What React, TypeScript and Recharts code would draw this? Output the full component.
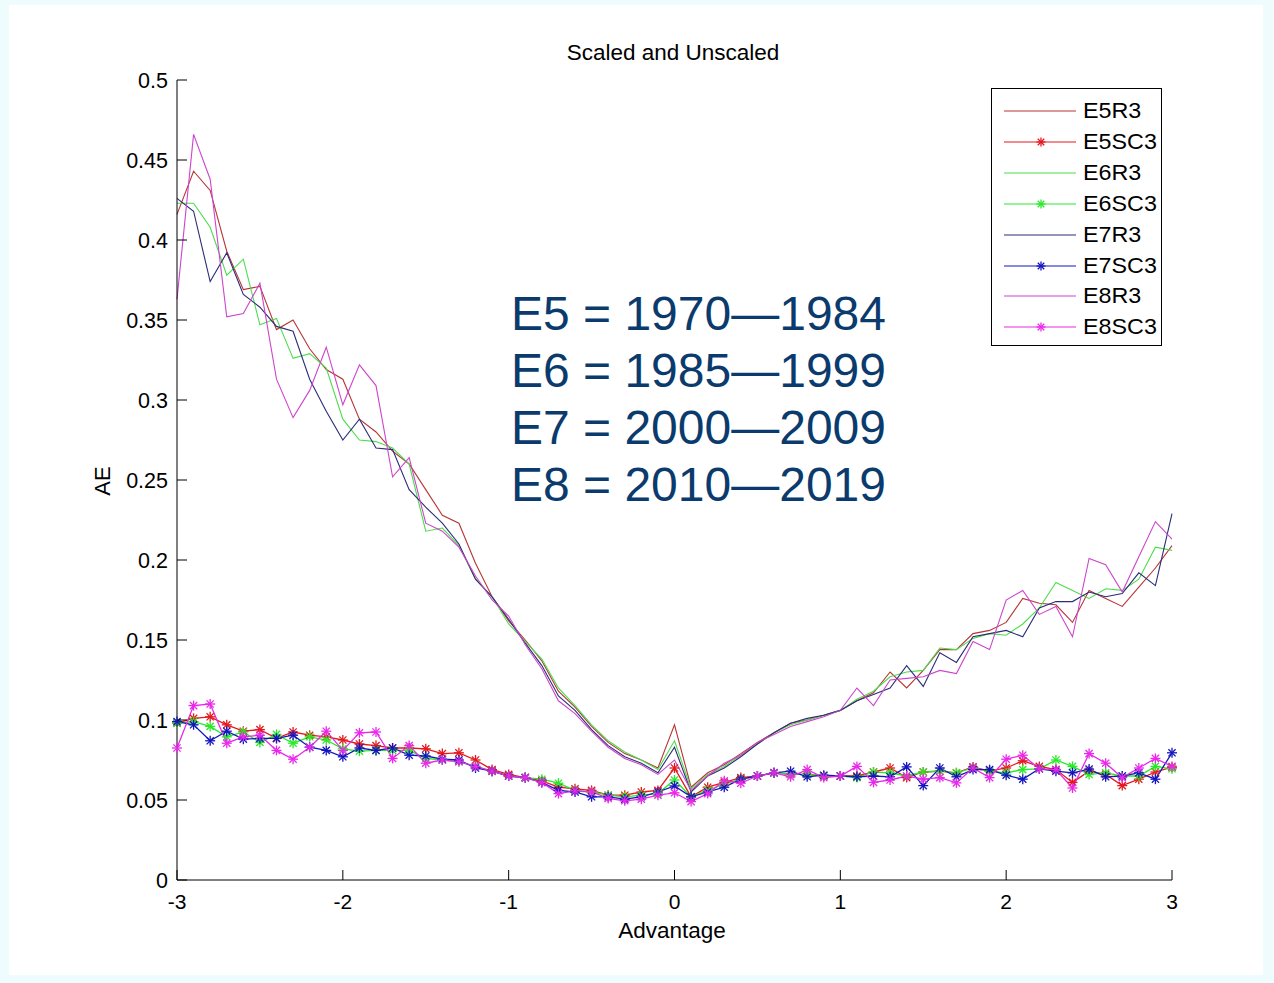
import React from 'react';
import { LineChart, Line, XAxis, YAxis } from 'recharts';

// Advantage values (x axis)
const advantage = [
  -3.0, -2.9, -2.8, -2.7, -2.6, -2.5, -2.4, -2.3, -2.2, -2.1,
  -2.0, -1.9, -1.8, -1.7, -1.6, -1.5, -1.4, -1.3, -1.2, -1.1,
  -1.0, -0.9, -0.8, -0.7, -0.6, -0.5, -0.4, -0.3, -0.2, -0.1,
  0.0,
  0.1, 0.2, 0.3, 0.4, 0.5, 0.6, 0.7, 0.8, 0.9, 1.0,
  1.1, 1.2, 1.3, 1.4, 1.5, 1.6, 1.7, 1.8, 1.9, 2.0,
  2.1, 2.2, 2.3, 2.4, 2.5, 2.6, 2.7, 2.8, 2.9, 3.0,
];

const e5r3 = [
  0.416, 0.443, 0.431, 0.393, 0.369, 0.371, 0.344, 0.350, 0.332, 0.319,
  0.313, 0.288, 0.280, 0.268, 0.260, 0.244, 0.228, 0.223, 0.198, 0.177,
  0.162, 0.150, 0.137, 0.118, 0.108, 0.096, 0.086, 0.079, 0.075, 0.070,
  0.097,
  0.058, 0.067, 0.072, 0.079, 0.086, 0.092, 0.098, 0.100, 0.103, 0.106,
  0.112, 0.117, 0.130, 0.120, 0.131, 0.144, 0.144, 0.154, 0.156, 0.161,
  0.176, 0.173, 0.172, 0.161, 0.181, 0.176, 0.171, 0.183, 0.195, 0.209,
];

const e5sc3 = [
  0.098, 0.101, 0.102, 0.097, 0.093, 0.094, 0.0885, 0.0925, 0.0905, 0.0895,
  0.0875, 0.085, 0.084, 0.0825, 0.0825, 0.082, 0.079, 0.0795, 0.075, 0.069,
  0.066, 0.064, 0.062, 0.058, 0.057, 0.056, 0.053, 0.053, 0.055, 0.056,
  0.070,
  0.052, 0.058, 0.061, 0.064, 0.065, 0.067, 0.066, 0.066, 0.065, 0.065,
  0.065, 0.0675, 0.070, 0.064, 0.0675, 0.068, 0.067, 0.0707, 0.068, 0.070,
  0.0745, 0.071, 0.069, 0.061, 0.068, 0.066, 0.059, 0.063, 0.0675, 0.0705,
];

const e6r3 = [
  0.423, 0.423, 0.408, 0.378, 0.388, 0.347, 0.351, 0.326, 0.329, 0.320,
  0.288, 0.275, 0.274, 0.270, 0.260, 0.218, 0.220, 0.209, 0.188, 0.177,
  0.160, 0.149, 0.138, 0.120, 0.109, 0.097, 0.087, 0.080, 0.075, 0.069,
  0.087,
  0.057, 0.066, 0.071, 0.078, 0.085, 0.092, 0.097, 0.100, 0.103, 0.106,
  0.113, 0.118, 0.127, 0.130, 0.131, 0.145, 0.144, 0.151, 0.154, 0.153,
  0.160, 0.170, 0.186, 0.181, 0.176, 0.182, 0.181, 0.188, 0.208, 0.206,
];

const e6sc3 = [
  0.098, 0.099, 0.096, 0.0895, 0.0925, 0.086, 0.091, 0.0855, 0.0895, 0.0875,
  0.082, 0.0805, 0.081, 0.081, 0.081, 0.076, 0.075, 0.074, 0.071, 0.068,
  0.065, 0.064, 0.063, 0.0605, 0.056, 0.055, 0.053, 0.052, 0.053, 0.054,
  0.0625,
  0.052, 0.056, 0.060, 0.063, 0.065, 0.067, 0.066, 0.066, 0.065, 0.065,
  0.064, 0.0675, 0.067, 0.065, 0.0675, 0.068, 0.067, 0.070, 0.068, 0.067,
  0.069, 0.0695, 0.075, 0.071, 0.066, 0.067, 0.065, 0.065, 0.071, 0.0695,
];

const e7r3 = [
  0.426, 0.418, 0.374, 0.392, 0.366, 0.358, 0.346, 0.343, 0.313, 0.293,
  0.275, 0.288, 0.270, 0.269, 0.244, 0.233, 0.223, 0.210, 0.188, 0.177,
  0.163, 0.148, 0.134, 0.115, 0.106, 0.094, 0.084, 0.077, 0.073, 0.067,
  0.083,
  0.055, 0.065, 0.070, 0.077, 0.085, 0.092, 0.098, 0.101, 0.103, 0.106,
  0.112, 0.116, 0.120, 0.134, 0.121, 0.142, 0.136, 0.152, 0.154, 0.156,
  0.152, 0.170, 0.174, 0.174, 0.180, 0.177, 0.179, 0.192, 0.184, 0.229,
];

const e7sc3 = [
  0.099, 0.097, 0.087, 0.093, 0.088, 0.0885, 0.0885, 0.0905, 0.083, 0.081,
  0.077, 0.0825, 0.081, 0.0825, 0.078, 0.0775, 0.0755, 0.075, 0.070, 0.068,
  0.065, 0.064, 0.061, 0.056, 0.055, 0.052, 0.052, 0.0505, 0.052, 0.055,
  0.0588,
  0.052, 0.055, 0.058, 0.063, 0.065, 0.067, 0.068, 0.0645, 0.0655, 0.065,
  0.0645, 0.065, 0.0645, 0.0707, 0.059, 0.070, 0.0645, 0.069, 0.069, 0.0655,
  0.063, 0.0695, 0.068, 0.067, 0.0693, 0.0645, 0.065, 0.067, 0.063, 0.0795,
];

const e8r3 = [
  0.363, 0.466, 0.438, 0.352, 0.354, 0.373, 0.313, 0.289, 0.306, 0.333,
  0.297, 0.322, 0.309, 0.252, 0.264, 0.223, 0.218, 0.208, 0.190, 0.175,
  0.165, 0.147, 0.132, 0.112, 0.104, 0.093, 0.083, 0.076, 0.072, 0.066,
  0.075,
  0.056, 0.065, 0.073, 0.078, 0.086, 0.091, 0.096, 0.099, 0.102, 0.106,
  0.120, 0.109, 0.125, 0.126, 0.127, 0.131, 0.129, 0.149, 0.144, 0.175,
  0.181, 0.166, 0.171, 0.152, 0.201, 0.197, 0.180, 0.202, 0.224, 0.213,
];

const e8sc3 = [
  0.0825, 0.109, 0.110, 0.0855, 0.0895, 0.0905, 0.081, 0.0755, 0.083, 0.093,
  0.081, 0.092, 0.0925, 0.076, 0.084, 0.073, 0.075, 0.074, 0.071, 0.068,
  0.065, 0.064, 0.061, 0.054, 0.0557, 0.055, 0.051, 0.0495, 0.0505, 0.053,
  0.0545,
  0.049, 0.054, 0.062, 0.0605, 0.065, 0.067, 0.0645, 0.069, 0.064, 0.065,
  0.071, 0.061, 0.0625, 0.065, 0.063, 0.064, 0.0607, 0.070, 0.064, 0.0755,
  0.078, 0.0695, 0.069, 0.0575, 0.079, 0.073, 0.064, 0.070, 0.076, 0.071,
];

const xTicks = [-3, -2, -1, 0, 1, 2, 3];
const yTicks = [0, 0.05, 0.1, 0.15, 0.2, 0.25, 0.3, 0.35, 0.4, 0.45, 0.5];

const eraLabels = ['E5 = 1970\u20141984', 'E6 = 1985\u20141999', 'E7 = 2000\u20142009', 'E8 = 2010\u20142019'];

const series = [
  { key: 'E5R3', values: e5r3, color: '#b73535', star: false },
  { key: 'E5SC3', values: e5sc3, color: '#e4181c', star: true },
  { key: 'E6R3', values: e6r3, color: '#4ddc4d', star: false },
  { key: 'E6SC3', values: e6sc3, color: '#2ae82a', star: true },
  { key: 'E7R3', values: e7r3, color: '#2c2c78', star: false },
  { key: 'E7SC3', values: e7sc3, color: '#1414c0', star: true },
  { key: 'E8R3', values: e8r3, color: '#cc45cc', star: false },
  { key: 'E8SC3', values: e8sc3, color: '#ea28ea', star: true },
];

const data = advantage.map((x, i) => {
  const row: any = { x };
  series.forEach((s) => { row[s.key] = s.values[i]; });
  return row;
});

const FONT = '"Liberation Sans", Arial, Helvetica, sans-serif';

const Star = ({ cx, cy, color, r = 5 }: any) => {
  if (cx == null || cy == null) return null;
  const d = r * 0.72;
  return (
    <g stroke={color} strokeWidth={1.3}>
      <line x1={cx - r} y1={cy} x2={cx + r} y2={cy} />
      <line x1={cx} y1={cy - r} x2={cx} y2={cy + r} />
      <line x1={cx - d} y1={cy - d} x2={cx + d} y2={cy + d} />
      <line x1={cx - d} y1={cy + d} x2={cx + d} y2={cy - d} />
    </g>
  );
};

const XTick = ({ x, y, payload }: any) => (
  <g>
    <line x1={x} y1={y} x2={x} y2={y - 10} stroke="#000" strokeWidth={1} />
    <text x={x} y={y + 29} textAnchor="middle" fontSize={21} fontFamily={FONT} fill="#000">
      {payload.value}
    </text>
  </g>
);

const YTick = ({ x, y, payload }: any) => (
  <g>
    <line x1={x} y1={y} x2={x + 10} y2={y} stroke="#000" strokeWidth={1} />
    <text x={x - 9} y={y + 7.5} textAnchor="end" fontSize={21.5} fontFamily={FONT} fill="#000">
      {String(payload.value)}
    </text>
  </g>
);

const LegendBox = () => (
  <div
    style={{
      position: 'absolute',
      left: 991,
      top: 88,
      width: 169,
      height: 256,
      border: '1px solid #000',
      background: '#fff',
      fontFamily: FONT,
      fontSize: 22,
    }}
  >
    {series.map((s, i) => (
      <div key={s.key} style={{ position: 'absolute', left: 0, top: 7 + i * 30.9, height: 30, width: 169 }}>
        <svg width={90} height={30} style={{ position: 'absolute', left: 0, top: 0 }}>
          <line x1={12} y1={15} x2={84} y2={15} stroke={s.color} strokeWidth={1.2} />
          {s.star && <Star cx={49} cy={15} color={s.color} r={4.5} />}
        </svg>
        <span
          style={{
            position: 'absolute',
            left: 91,
            top: 2,
            lineHeight: '26px',
            color: '#000',
            display: 'inline-block',
            transform: 'scaleX(1.06)',
            transformOrigin: 'left center',
          }}
        >
          {s.key}
        </span>
      </div>
    ))}
  </div>
);

export default function App() {
  return (
    <div style={{ position: 'fixed', left: 0, top: 0, width: 1274, height: 983, background: '#effcfd' }}>
      <div style={{ position: 'absolute', left: 9, top: 5, width: 1254, height: 970, background: '#fff' }} />
      <div style={{ position: 'absolute', left: 0, top: 0 }}>
        <LineChart
          width={1274}
          height={983}
          data={data}
          margin={{ top: 80, right: 102, bottom: 43, left: 77 }}
        >
          <XAxis
            dataKey="x"
            type="number"
            domain={[-3, 3]}
            ticks={xTicks}
            tickLine={false}
            tickSize={0}
            tickMargin={0}
            height={60}
            axisLine={{ stroke: '#000', strokeWidth: 1 }}
            tick={<XTick />}
            interval={0}
            label={{
              content: () => (
                <text x={672} y={938} textAnchor="middle" fontSize={22.5} fontFamily={FONT} fill="#000">
                  Advantage
                </text>
              ),
            }}
          />
          <YAxis
            type="number"
            domain={[0, 0.5]}
            ticks={yTicks}
            tickLine={false}
            tickSize={0}
            tickMargin={0}
            width={100}
            axisLine={{ stroke: '#000', strokeWidth: 1 }}
            tick={<YTick />}
            interval={0}
            label={{
              content: () => (
                <text
                  x={110}
                  y={481}
                  transform="rotate(-90 110 481)"
                  textAnchor="middle"
                  fontSize={22}
                  fontFamily={FONT}
                  fill="#000"
                >
                  AE
                </text>
              ),
            }}
          />
          {series.map((s) => (
            <Line
              key={s.key}
              dataKey={s.key}
              type="linear"
              stroke={s.color}
              strokeWidth={s.star ? 1.3 : 1.1}
              isAnimationActive={false}
              dot={s.star ? (p: any) => <Star key={`${s.key}-${p.index}`} cx={p.cx} cy={p.cy} color={s.color} /> : false}
              activeDot={false}
            />
          ))}
        </LineChart>
      </div>
      <LegendBox />
      <svg width={1274} height={983} style={{ position: 'absolute', left: 0, top: 0, pointerEvents: 'none' }}>
        <text x={673} y={60} textAnchor="middle" fontSize={22.5} fontFamily={FONT} fill="#000">
          Scaled and Unscaled
        </text>
        {eraLabels.map((t, i) => (
          <text key={t} x={511} y={330 + i * 57} fontSize={48} fontFamily={FONT} fill="#0b3b6d">
            {t}
          </text>
        ))}
      </svg>
    </div>
  );
}
